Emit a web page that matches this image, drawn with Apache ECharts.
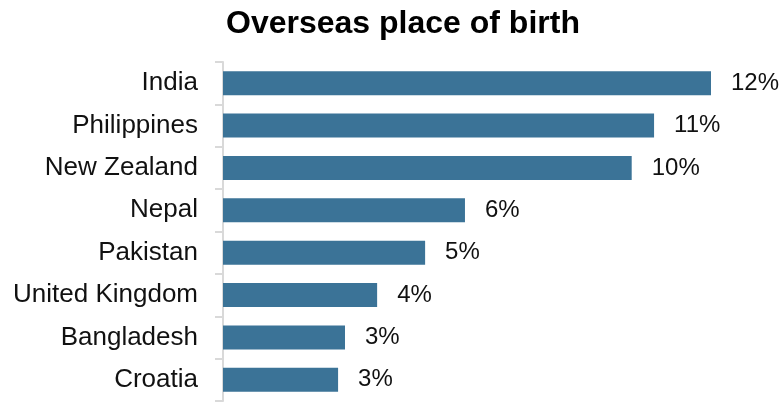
<!DOCTYPE html>
<html>
<head>
<meta charset="utf-8">
<script src="https://cdn.jsdelivr.net/npm/echarts@6/dist/echarts.min.js"></script>
<style>
  html, body { margin: 0; padding: 0; background: #fff; }
  #chart { width: 784px; height: 403px; }
</style>
</head>
<body>
<div id="chart"></div>
<script>
// Countries of birth, top to bottom
const countries = ['India', 'Philippines', 'New Zealand', 'Nepal', 'Pakistan', 'United Kingdom', 'Bangladesh', 'Croatia'];
// Share of overseas-born residents (%)
const shares = [12.0, 10.6, 10.05, 5.95, 4.97, 3.79, 3.0, 2.83];

const FONT = 'Liberation Sans, Arial, sans-serif';

const chart = echarts.init(document.getElementById('chart'));
chart.setOption({
  animation: false,
  title: {
    text: 'Overseas place of birth',
    left: 221,
    top: 3,
    textStyle: { fontFamily: FONT, fontSize: 32, fontWeight: 'bold', color: '#000' }
  },
  grid: { left: 223, right: 73, top: 62, bottom: 2 },
  xAxis: {
    type: 'value',
    min: 0,
    max: 12,
    show: false
  },
  yAxis: {
    type: 'category',
    inverse: true,
    data: countries,
    axisLine: { show: true, lineStyle: { color: '#d9d9d9', width: 2 } },
    axisTick: { show: true, length: 8, lineStyle: { color: '#d9d9d9', width: 2 } },
    axisLabel: {
      margin: 25,
      padding: [3, 0, 0, 0],
      fontFamily: FONT,
      fontSize: 26,
      color: '#111'
    }
  },
  series: [{
    type: 'bar',
    data: shares,
    barWidth: 24,
    itemStyle: { color: '#3b7397' },
    label: {
      show: true,
      position: 'right',
      distance: 20,
      padding: [3, 0, 0, 0],
      fontFamily: FONT,
      fontSize: 24,
      color: '#111',
      formatter: p => Math.round(p.value) + '%'
    }
  }]
});
</script>
</body>
</html>
